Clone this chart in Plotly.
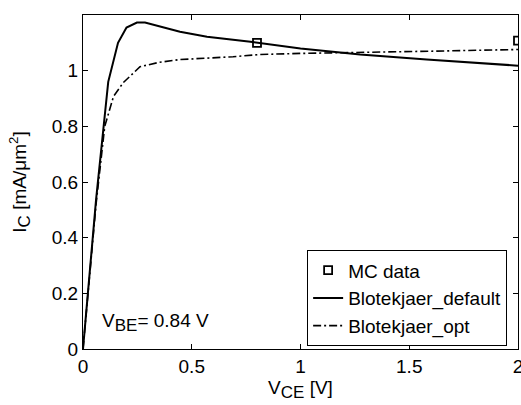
import plotly.graph_objects as go

# Data
x_mc = [0.8, 2.0]
y_mc = [1.10, 1.108]

x_def = [0, 0.06, 0.116, 0.161, 0.2, 0.248, 0.285, 0.35, 0.446, 0.57, 0.77, 1.0, 1.274, 1.58, 2.0]
y_def = [0, 0.536, 0.96, 1.10, 1.155, 1.173, 1.173, 1.16, 1.14, 1.122, 1.104, 1.08, 1.058, 1.04, 1.018]

x_opt = [0, 0.06, 0.1, 0.14, 0.185, 0.262, 0.35, 0.446, 0.69, 0.814, 1.0, 1.274, 1.6, 2.0]
y_opt = [0, 0.52, 0.8, 0.907, 0.957, 1.014, 1.03, 1.04, 1.05, 1.058, 1.062, 1.065, 1.07, 1.076]

x_ticks = [0, 0.5, 1, 1.5, 2]
y_ticks = [0, 0.2, 0.4, 0.6, 0.8, 1]

FONT = "Liberation Sans, Arial, sans-serif"
FS = 19
SUB = "<sub><span style='font-size:17px'>{}</span></sub>"

fig = go.Figure()
fig.add_trace(go.Scatter(x=x_mc, y=y_mc, mode="markers", name="MC data",
                         marker=dict(symbol="square-open", size=8, color="black",
                                     line=dict(width=1.8, color="black"))))
fig.add_trace(go.Scatter(x=x_def, y=y_def, mode="lines", name="Blotekjaer_default",
                         line=dict(color="black", width=2)))
fig.add_trace(go.Scatter(x=x_opt, y=y_opt, mode="lines", name="Blotekjaer_opt",
                         line=dict(color="black", width=1.6, dash="8px,3px,2px,3px")))

axis_common = dict(showline=True, linecolor="black", linewidth=1.2, mirror="ticks",
                   ticks="inside", ticklen=5, tickcolor="black", showgrid=False,
                   zeroline=False, tickfont=dict(size=FS, color="black", family=FONT),
                   ticklabeloverflow="allow")

fig.update_xaxes(range=[0, 2], tickvals=x_ticks, ticktext=["0", "0.5", "1", "1.5", "2"],
                 automargin=False,
                 title=dict(text="V" + SUB.format("CE") + " [V]",
                            font=dict(size=FS, color="black", family=FONT), standoff=2),
                 **axis_common)
fig.update_yaxes(range=[0, 1.2], tickvals=y_ticks, ticktext=["0", "0.2", "0.4", "0.6", "0.8", "1"],
                 title=dict(text="I" + SUB.format("C") + " [mA/μm<sup>2</sup>]",
                            font=dict(size=FS, color="black", family=FONT), standoff=20),
                 **axis_common)

fig.add_annotation(text="V" + SUB.format("BE") + "= 0.84 V", xref="paper", yref="paper",
                   x=0.04, y=0.08, xanchor="left", yanchor="middle", showarrow=False,
                   font=dict(size=FS, color="black", family=FONT))

fig.update_layout(
    width=521, height=405,
    margin=dict(l=83, r=3, t=15, b=56),
    plot_bgcolor="white", paper_bgcolor="white",
    font=dict(family=FONT, color="black", size=FS),
    legend=dict(x=0.975, y=0.008, xanchor="right", yanchor="bottom",
                bgcolor="white", bordercolor="black", borderwidth=1,
                font=dict(size=FS, color="black", family=FONT),
                tracegroupgap=0, itemwidth=30),
    showlegend=True,
)

fig.write_html("out.html")
